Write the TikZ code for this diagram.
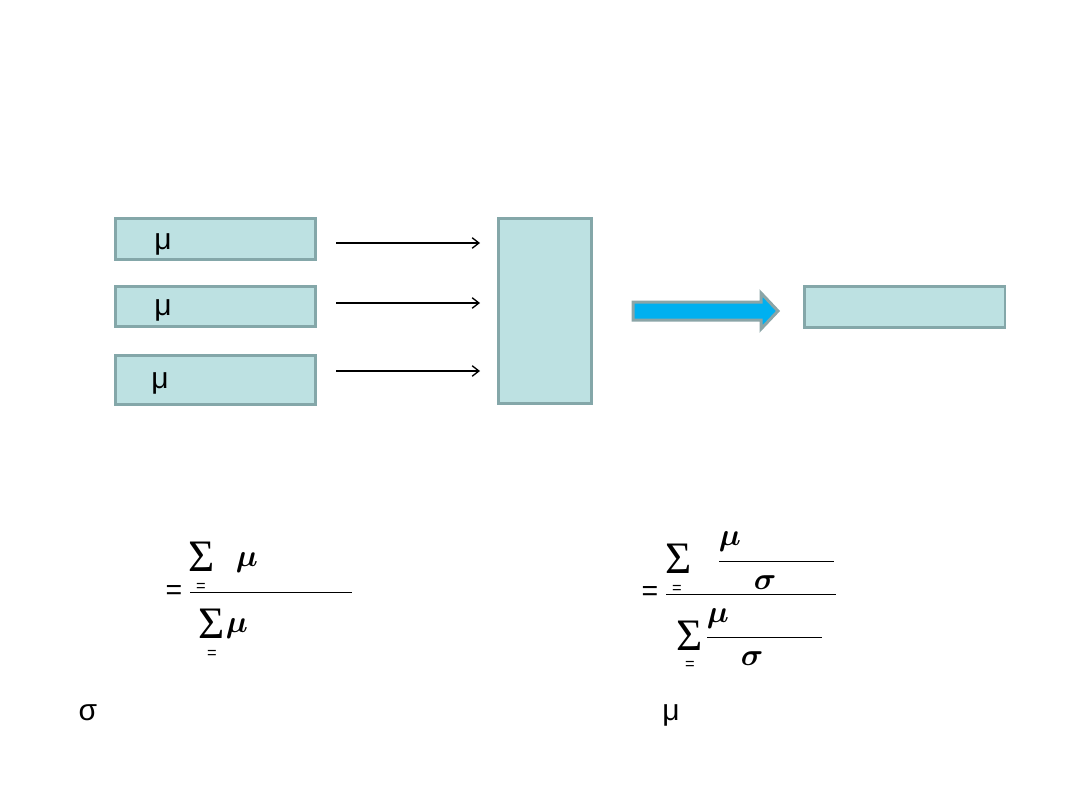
\documentclass[tikz,border=0pt]{standalone}
\usepackage{amsmath,amssymb}
\usepackage{fontspec}
\setmainfont{Liberation Sans}
\newfontfamily\sumfont{Liberation Serif}
\usetikzlibrary{positioning}
\usetikzlibrary{arrows.meta}
\definecolor{boxfill}{HTML}{BDE1E2}
\definecolor{boxline}{HTML}{84A7A9}
\definecolor{fatarrow}{HTML}{00B0F0}
\definecolor{fatline}{HTML}{8BA5A7}

\begin{document}
\begin{tikzpicture}[
  x=0.6667pt, y=-0.6667pt,
  every node/.style={inner sep=0pt, outer sep=0pt},
  inbox/.style={rectangle, line width=2pt, fill=boxfill, draw=boxline, anchor=north west},
  feed/.style={line width=0.7pt, -{Straight Barb[length=4.5pt, width=7pt, line width=0.9pt]}},
  glyph/.style={font=\fontsize{20}{24}\selectfont},
  bigsum/.style={font=\sumfont\fontsize{30}{32}\selectfont, anchor=base},
  bigeq/.style={font=\fontsize{19}{22}\selectfont},
  subeq/.style={font=\fontsize{11}{12}\selectfont},
  fracbar/.style={line width=0.6pt}
]
\useasboundingbox (0,0) rectangle (1080,810);

% ====== INPUT BOXES ======
\node[inbox, minimum width=134pt, minimum height=28pt] (src1) at (115,218) {};
\node[inbox, minimum width=134pt, minimum height=27pt] (src2) at (115,286) {};
\node[inbox, minimum width=134pt, minimum height=33pt] (src3) at (115,355) {};
\node[glyph] (mu1) at (163,244) {μ};
\node[glyph] (mu2) at (163,310) {μ};
\node[glyph] (mu3) at (160,383) {μ};

% ====== COMBINER ======
\node[inbox, minimum width=62pt, minimum height=124pt] (comb) at (498,218) {};
\foreach \i/\yy in {1/243, 2/303, 3/371}{
  \coordinate (tail\i) at (336,\yy);
  \coordinate (head\i) at (480,\yy);
  \draw[feed] (tail\i) -- (head\i);
}

% ====== RESULT ======
\draw[line width=2pt, draw=fatline, fill=fatarrow, line join=miter]
  (633,302) -- (761,302) -- (761,293) -- (778,311) -- (761,329)
  -- (761,320) -- (633,320) -- cycle;
\node[inbox, minimum width=134pt, minimum height=28pt] (res) at (804,286) {};

% ====== LEFT FORMULA ======
\node[bigeq] (eqA) at (174,593) {=};
\draw[fracbar] (190,592) -- (352,592);
\node[bigsum] (sumA) at (202,571) {Σ};
\node[subeq] (subA) at (201,587) {=};
\node[glyph] (muA) at (247,563) {$\boldsymbol{\mu}$};
\node[bigsum] (sumB) at (212,638) {Σ};
\node[subeq] (subB) at (212,654) {=};
\node[glyph] (muB) at (237,629) {$\boldsymbol{\mu}$};

% ====== RIGHT FORMULA ======
\node[bigeq] (eqB) at (650,594) {=};
\draw[fracbar] (666,594) -- (836,594);
\node[bigsum] (sumC) at (679,573) {Σ};
\node[subeq] (subC) at (677,589) {=};
\node[glyph] (muC) at (730,542) {$\boldsymbol{\mu}$};
\draw[fracbar] (719,561) -- (834,561);
\node[glyph] (sigC) at (765,583) {$\boldsymbol{\sigma}$};
\node[bigsum] (sumD) at (690,650) {Σ};
\node[subeq] (subD) at (690,665) {=};
\node[glyph] (muD) at (718,619) {$\boldsymbol{\mu}$};
\draw[fracbar] (707,637) -- (822,637);
\node[glyph] (sigD) at (752,659) {$\boldsymbol{\sigma}$};

% ====== FOOTNOTES ======
\node[glyph] (sigE) at (88,713) {σ};
\node[glyph] (muE) at (671,715) {μ};

\end{tikzpicture}
\end{document}
